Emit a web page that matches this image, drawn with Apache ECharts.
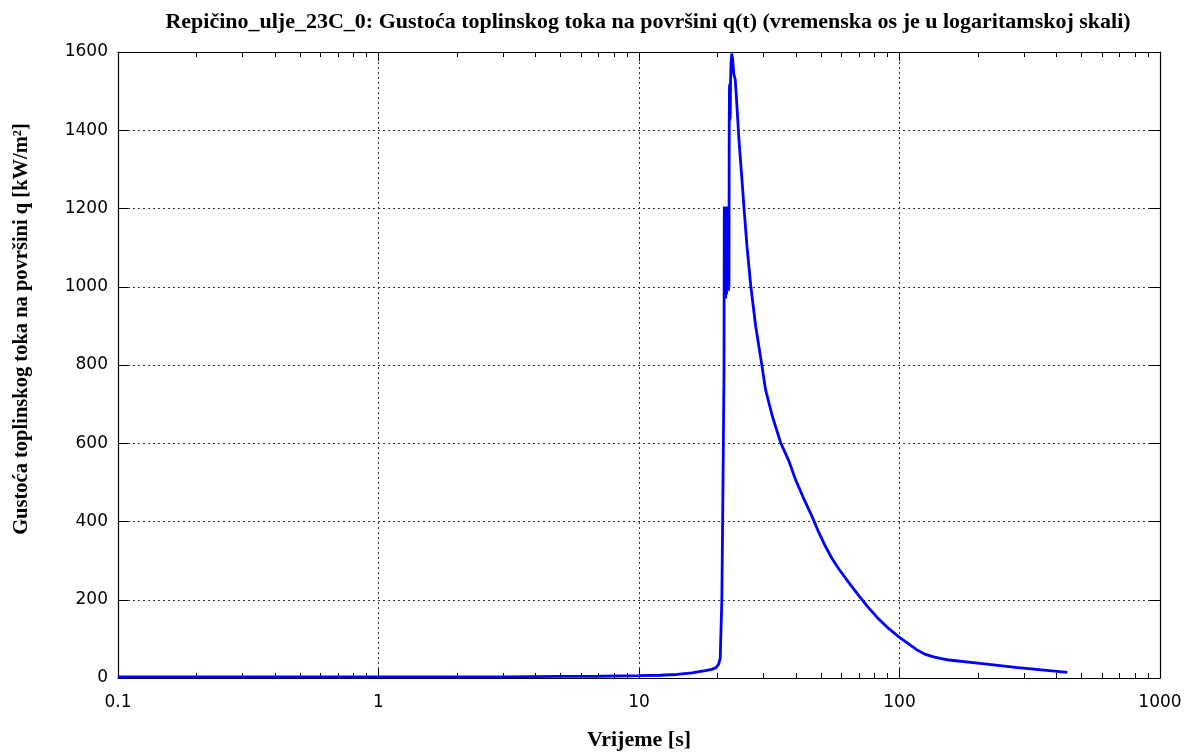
<!DOCTYPE html>
<html>
<head>
<meta charset="utf-8">
<script src="https://cdn.jsdelivr.net/npm/echarts@6/dist/echarts.min.js"></script>
<style>
  html, body { margin: 0; padding: 0; background: #fff; }
  #chart { width: 1197px; height: 756px; }
</style>
</head>
<body>
<div id="chart"></div>
<script>
// vrijeme t [s] i gustoca toplinskog toka q [kW/m2], ocitano sa slike
const vrijeme = [
  0.1, 1, 3, 5, 7, 10, 12, 14, 16, 17, 18, 19, 19.7, 20.2, 20.5, 20.8, 21.0, 21.2,
  21.25, 21.3, 21.4, 21.5, 21.6, 21.7, 21.8, 22.0, 22.15,
  22.2, 22.25, 22.3, 22.35, 22.4, 22.45, 22.55, 22.7, 22.9, 23.1, 23.4, 23.6, 23.8, 24.0,
  24.2, 24.9, 25.3, 26.0, 26.85, 28.05, 29.6, 30.6, 32.5, 35.0, 37.6, 40.0, 43.0, 46, 49,
  52, 55, 58.6, 64, 69.9, 76, 83.4, 91, 100, 108, 116, 125, 135, 145, 154.9, 208, 279, 441
]
const toplinskiTok = [
  3, 3, 3, 4, 4.5, 6, 7, 9, 13, 16, 19, 22, 26, 35, 50, 200, 480, 790,
  1205, 975, 1200, 970, 1195, 980, 1205, 990, 1000,
  1420, 1515, 1425, 1520, 1430, 1515, 1570, 1596, 1580, 1545, 1530, 1495, 1500, 1490,
  1375, 1265, 1201, 1100, 1003, 899, 801, 737, 669, 601, 555, 505, 457, 415, 372,
  336, 306, 278, 243, 210, 180, 150, 126, 104, 88, 73, 61, 54, 49.5, 46, 37, 27, 14.5
]
const yTicks = [0, 200, 400, 600, 800, 1000, 1200, 1400, 1600]
const xMajor = [0.1, 1, 10, 100, 1000]

// minor ticks (2..9 u svakoj dekadi), u log10 prostoru
const minorTicks = []
for (let d = -1; d < 3; d++) {
  for (let k = 2; k <= 9; k++) {
    minorTicks.push(d + Math.log10(k))
  }
}

const data = vrijeme.map((t, i) => [t, toplinskiTok[i]])

const chart = echarts.init(document.getElementById('chart'))
const serif = 'Liberation Serif'
const sans = 'DejaVu Sans'
const dotted = { color: '#333', width: 1, type: [2, 3] }
const frame = { show: true, onZero: false, lineStyle: { color: '#000', width: 1.2 } }
const tick = (len) => ({ inside: true, length: len, lineStyle: { color: '#000' } })

chart.setOption({
  animation: false,
  backgroundColor: '#fff',
  title: {
    text: 'Repičino_ulje_23C_0: Gustoća toplinskog toka na površini q(t) (vremenska os je u logaritamskoj skali)',
    left: 643,
    textAlign: 'center',
    top: 6,
    textStyle: { fontFamily: serif, fontWeight: 'bold', fontSize: 22, color: '#000' }
  },
  grid: { left: 118, right: 37, top: 52, bottom: 77 },
  graphic: [
    {
      type: 'text',
      x: 22,
      y: 329,
      rotation: Math.PI / 2,
      style: {
        text: 'Gustoća toplinskog toka na površini q [kW/m²]',
        fontFamily: serif,
        fontWeight: 'bold',
        fontSize: 20.5,
        fill: '#000',
        align: 'center',
        verticalAlign: 'middle'
      }
    }
  ],
  xAxis: [
    {
      type: 'log',
      logBase: 10,
      min: xMajor[0],
      max: xMajor[xMajor.length - 1],
      position: 'bottom',
      name: 'Vrijeme [s]',
      nameLocation: 'middle',
      nameGap: 51,
      nameTextStyle: { fontFamily: serif, fontWeight: 'bold', fontSize: 22, color: '#000' },
      axisLine: frame,
      axisTick: tick(9),
      axisLabel: {
        fontFamily: sans, fontSize: 17, color: '#000', margin: 16,
        formatter: v => String(v)
      },
      splitLine: { show: true, lineStyle: dotted }
    },
    {
      type: 'log',
      logBase: 10,
      min: xMajor[0],
      max: xMajor[xMajor.length - 1],
      position: 'top',
      axisLine: frame,
      axisTick: tick(9),
      axisLabel: { show: false },
      splitLine: { show: false }
    },
    {
      type: 'value',
      min: -1,
      max: 3,
      position: 'bottom',
      axisLine: { show: false, onZero: false },
      axisTick: Object.assign(tick(5), { show: true, customValues: minorTicks }),
      axisLabel: { show: false },
      splitLine: { show: false }
    },
    {
      type: 'value',
      min: -1,
      max: 3,
      position: 'top',
      axisLine: { show: false, onZero: false },
      axisTick: Object.assign(tick(5), { show: true, customValues: minorTicks }),
      axisLabel: { show: false },
      splitLine: { show: false }
    }
  ],
  yAxis: [
    {
      type: 'value',
      min: yTicks[0],
      max: yTicks[yTicks.length - 1],
      interval: 200,
      position: 'left',
      axisLine: frame,
      axisTick: tick(10),
      axisLabel: {
        fontFamily: sans, fontSize: 17, color: '#000', margin: 10,
        formatter: v => String(v)
      },
      splitLine: { show: true, lineStyle: dotted }
    },
    {
      type: 'value',
      min: yTicks[0],
      max: yTicks[yTicks.length - 1],
      interval: 200,
      position: 'right',
      axisLine: frame,
      axisTick: tick(10),
      axisLabel: { show: false },
      splitLine: { show: false }
    }
  ],
  series: [
    {
      type: 'line',
      xAxisIndex: 0,
      yAxisIndex: 0,
      data: data,
      showSymbol: false,
      lineStyle: { color: '#0000ff', width: 2.8 },
      z: 5
    }
  ]
})
</script>
</body>
</html>
